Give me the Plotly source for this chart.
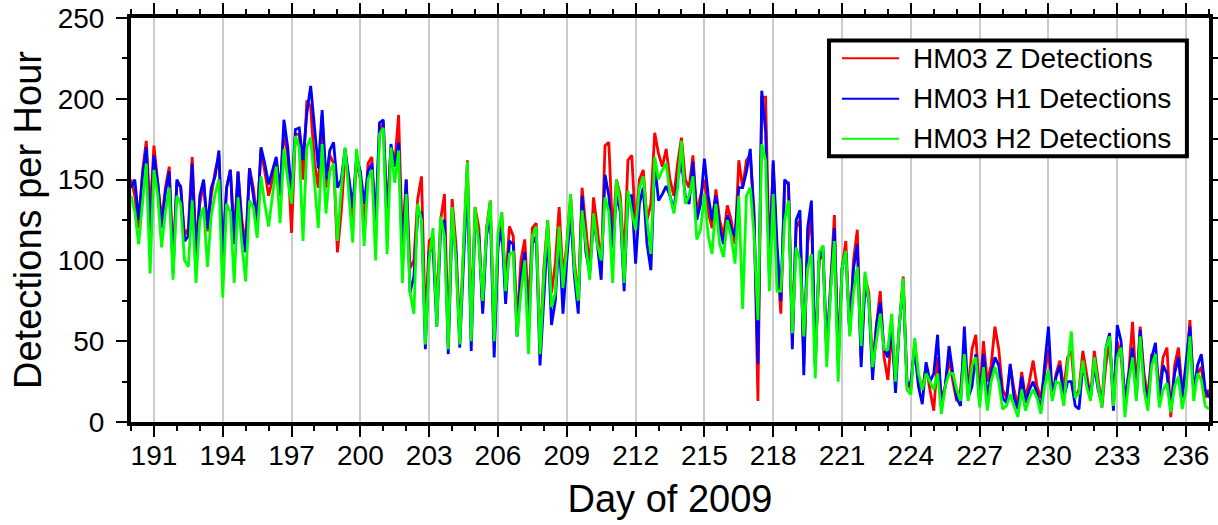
import plotly.graph_objects as go

# Detections per hour, sampled every 4 hours (6 samples per day) from day 190.0 to 237.0
start_day = 190
samples_per_day = 6

z_detections = [
    150, 140, 120, 155, 174, 130,
    171, 150, 125, 145, 158, 100,
    148, 146, 115, 120, 164, 110,
    135, 148, 118, 140, 155, 165,
    100, 145, 156, 115, 155, 125,
    110, 157, 145, 125, 168, 155,
    140, 150, 162, 140, 180, 165,
    117, 178, 178, 150, 199, 195,
    160, 145, 190, 145, 165, 160,
    105, 130, 165, 150, 125, 162,
    150, 120, 160, 164, 120, 180,
    185, 130, 170, 160, 190, 110,
    150, 95, 100, 138, 152, 60,
    112, 115, 70, 125, 141, 50,
    138, 110, 55, 108, 162, 60,
    133, 120, 70, 120, 137, 50,
    110, 128, 85, 121, 115, 60,
    100, 113, 70, 120, 123, 45,
    95, 125, 80, 98, 133, 90,
    110, 140, 100, 75, 145, 120,
    95, 139, 120, 95, 171, 173,
    115, 150, 140, 100, 162, 165,
    120, 150, 156, 125, 135, 179,
    166, 158, 169, 150, 140, 160,
    176, 150, 145, 165, 130, 140,
    150, 130, 120, 144, 125, 115,
    134, 125, 110, 162, 145, 162,
    165, 130, 13, 201, 201, 100,
    160, 100, 67, 148, 148, 50,
    120, 125, 35, 110, 130, 35,
    100, 105, 40, 85, 128, 40,
    95, 112, 55, 100, 119, 40,
    90, 80, 35, 60, 81, 40,
    26, 55, 25, 60, 90, 25,
    20, 50, 25, 20, 35, 20,
    7, 40, 15, 22, 40, 25,
    13, 20, 45, 20, 45, 54,
    15, 50, 25, 35, 59, 45,
    20, 15, 35, 20, 10, 31,
    15, 25, 38, 22, 15, 30,
    45, 15, 30, 38, 20, 40,
    44, 15, 20, 44, 30, 15,
    44, 25, 9, 35, 50, 15,
    50, 40, 15, 30, 62, 20,
    59, 30, 15, 42, 40, 20,
    40, 46, 3, 35, 46, 20,
    30, 63, 20, 30, 34, 15,
    20,
]

h1_detections = [
    145, 150, 125, 152, 170, 115,
    165, 148, 120, 142, 155, 92,
    150, 145, 112, 115, 160, 100,
    140, 150, 120, 145, 152, 168,
    104, 145, 156, 110, 155, 120,
    105, 157, 140, 123, 170, 160,
    147, 155, 164, 141, 187, 170,
    140, 181, 182, 162, 191, 208,
    180, 157, 193, 150, 168, 173,
    145, 150, 169, 150, 133, 164,
    155, 135, 155, 160, 123, 185,
    187, 121, 172, 158, 173, 100,
    150, 80, 90, 127, 130, 45,
    105, 108, 59, 120, 125, 42,
    125, 105, 46, 100, 150, 44,
    125, 115, 67, 115, 130, 40,
    108, 120, 73, 112, 110, 53,
    90, 105, 55, 110, 115, 35,
    80, 118, 60, 75, 115, 67,
    100, 130, 90, 67, 140, 105,
    92, 125, 110, 88, 153, 140,
    108, 140, 130, 81, 140, 140,
    98, 135, 145, 110, 94, 160,
    137, 141, 146, 140, 131, 150,
    161, 140, 135, 161, 125, 135,
    163, 140, 125, 140, 120, 110,
    128, 120, 115, 145, 145, 155,
    169, 125, 36, 205, 180, 90,
    162, 110, 75, 150, 147, 45,
    125, 131, 29, 120, 137, 35,
    100, 109, 45, 85, 120, 35,
    95, 105, 55, 95, 110, 34,
    85, 75, 26, 60, 74, 45,
    40, 60, 18, 60, 85, 22,
    25, 45, 22, 11, 37, 25,
    30, 54, 10, 22, 47, 30,
    15, 10, 59, 15, 22, 42,
    12, 42, 15, 30, 40, 35,
    15, 12, 36, 15, 8, 28,
    12, 20, 25, 18, 7, 35,
    59, 15, 28, 35, 15, 25,
    25, 10, 8, 35, 25, 15,
    35, 20, 12, 45, 55, 7,
    60, 50, 12, 30, 46, 15,
    57, 25, 10, 40, 49, 15,
    35, 30, 8, 30, 40, 15,
    35, 59, 18, 35, 42, 20,
    15,
]

h2_detections = [
    140, 130, 110, 135, 160, 92,
    156, 140, 108, 130, 145, 88,
    140, 135, 100, 96, 137, 86,
    125, 133, 96, 128, 141, 150,
    77, 135, 130, 86, 139, 110,
    87, 137, 133, 114, 152, 135,
    121, 140, 158, 123, 169, 150,
    135, 177, 170, 112, 170, 176,
    150, 120, 172, 129, 155, 160,
    112, 145, 170, 140, 111, 169,
    150, 109, 150, 156, 100, 178,
    182, 104, 170, 148, 168, 86,
    141, 80, 67, 135, 125, 48,
    100, 120, 59, 127, 115, 45,
    133, 100, 48, 110, 161, 50,
    133, 110, 75, 118, 137, 50,
    117, 130, 81, 104, 105, 53,
    80, 100, 42, 115, 121, 42,
    90, 125, 71, 80, 121, 83,
    108, 141, 95, 75, 131, 110,
    88, 129, 110, 100, 139, 130,
    86, 150, 135, 86, 143, 130,
    119, 145, 152, 125, 104, 164,
    150, 156, 160, 140, 129, 145,
    174, 135, 140, 152, 113, 119,
    141, 115, 104, 135, 110, 102,
    125, 115, 98, 140, 70, 140,
    145, 115, 63, 172, 162, 81,
    141, 81, 81, 125, 137, 55,
    108, 100, 53, 95, 104, 27,
    105, 109, 34, 80, 112, 25,
    95, 106, 53, 80, 96, 47,
    93, 75, 34, 50, 67, 45,
    45, 67, 25, 60, 89, 20,
    17, 52, 30, 20, 30, 25,
    20, 30, 5, 22, 30, 30,
    20, 13, 42, 13, 35, 40,
    9, 34, 7, 25, 34, 25,
    8, 10, 17, 10, 3, 20,
    7, 15, 20, 15, 5, 22,
    32, 13, 25, 24, 10, 35,
    56, 15, 18, 38, 22, 13,
    40, 22, 9, 45, 53, 10,
    40, 46, 3, 25, 40, 13,
    53, 20, 7, 35, 42, 9,
    20, 24, 6, 22, 28, 8,
    20, 53, 13, 30, 26, 10,
    8,
]

series_names = ["HM03 Z Detections", "HM03 H1 Detections", "HM03 H2 Detections"]
series_values = [z_detections, h1_detections, h2_detections]
series_colors = ["#ff0000", "#0000ff", "#00ff00"]

x_tick_values = list(range(191, 237, 3))
x_tick_labels = [str(v) for v in x_tick_values]
y_tick_values = [0, 50, 100, 150, 200, 250]

days = [start_day + i / samples_per_day for i in range(len(z_detections))]

FONT = "Liberation Sans, Arial, Helvetica, sans-serif"

fig = go.Figure()
for name, vals, col in zip(series_names, series_values, series_colors):
    fig.add_trace(go.Scatter(
        x=days, y=vals, mode="lines", name=name,
        line=dict(color=col, width=2.8), showlegend=False,
    ))

# manual legend (box, line samples, labels) in plot-area (paper) coordinates
box = dict(x0=0.6475, x1=0.9795, y0=0.6575, y1=0.9445)
row_y = [0.9005, 0.8000, 0.7010]
shapes = [dict(type="rect", xref="paper", yref="paper", layer="above",
               fillcolor="white", line=dict(color="black", width=4), **box)]
annotations = []
for name, col, ry in zip(series_names, series_colors, row_y):
    shapes.append(dict(type="line", xref="paper", yref="paper", layer="above",
                       x0=0.6595, x1=0.7125, y0=ry, y1=ry,
                       line=dict(color=col, width=2)))
    annotations.append(dict(xref="paper", yref="paper", x=0.7235, y=ry,
                            xanchor="left", yanchor="middle", showarrow=False,
                            text=name, font=dict(family=FONT, size=28, color="black")))

fig.update_layout(
    width=1218, height=525,
    margin=dict(l=131, r=9, t=18, b=103),
    paper_bgcolor="white", plot_bgcolor="white",
    font=dict(family=FONT, color="black"),
    shapes=shapes, annotations=annotations,
    showlegend=False,
)
fig.update_xaxes(
    range=[190, 237], tickmode="array", tickvals=x_tick_values, ticktext=x_tick_labels,
    ticks="outside", ticklen=11, tickwidth=1.5, tickcolor="black",
    tickfont=dict(family=FONT, size=28, color="black"), ticklabelstandoff=-6,
    showline=True, linewidth=4, linecolor="black", mirror="ticks",
    showgrid=True, gridcolor="#cccccc", gridwidth=1.5, zeroline=False,
    automargin=False,
    minor=dict(dtick=1, tick0=190, ticks="outside", ticklen=5, tickwidth=1.5,
               tickcolor="black", showgrid=False),
    title=dict(text="Day of 2009", font=dict(family=FONT, size=38, color="black"), standoff=17),
)
fig.update_yaxes(
    range=[0, 250], tickmode="array", tickvals=y_tick_values,
    ticks="outside", ticklen=11, tickwidth=1.5, tickcolor="black",
    tickfont=dict(family=FONT, size=28, color="black"), ticklabelstandoff=6,
    ticklabeloverflow="allow",
    showline=True, linewidth=4, linecolor="black", mirror="ticks",
    showgrid=False, zeroline=False,
    automargin=False,
    minor=dict(dtick=25, tick0=0, ticks="outside", ticklen=5, tickwidth=1.5,
               tickcolor="black", showgrid=False),
    title=dict(text="Detections per Hour", font=dict(family=FONT, size=38, color="black"), standoff=5),
)

# remove the default page margin so the 1218x525 figure fills the window exactly
fig.write_html("out.html", config={"displayModeBar": False},
               post_script="document.body.style.margin='0';")
